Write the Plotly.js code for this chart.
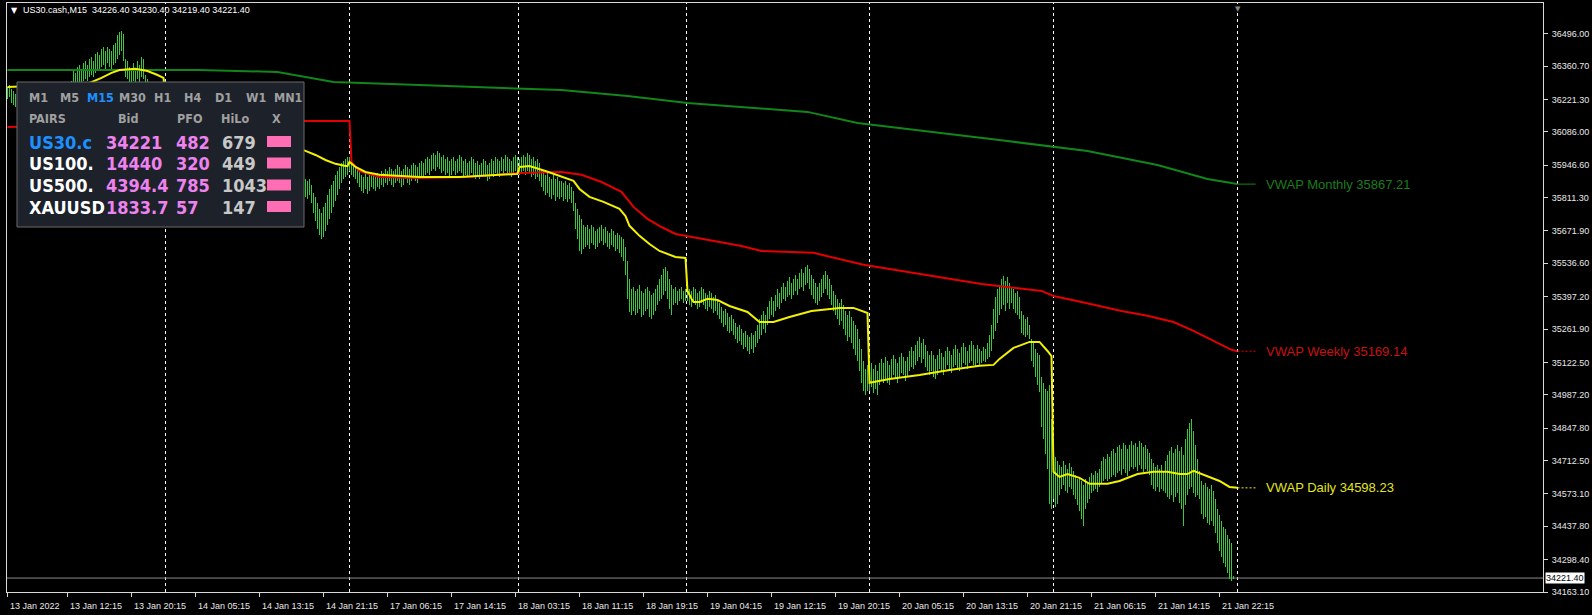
<!DOCTYPE html>
<html><head><meta charset="utf-8">
<script src="https://cdn.plot.ly/plotly-3.0.1.min.js"></script>
<style>html,body{margin:0;padding:0;background:#000;overflow:hidden}#chart{width:1592px;height:615px}</style>
</head><body><div id="chart"></div>
<script>
// ---------------- DATA ----------------
const symbol = "US30.cash,M15";
const lastBar = {open: 34226.40, high: 34230.40, low: 34219.40, close: 34221.40};

// M15 bar highs / lows, one value per bar (13 Jan .. 21 Jan 2022)
const barHigh = [
// 13 Jan
36273,36282,36265,36257,36244,
36240,36223,36231,36206,36198,36215,36223,36240,36231,36248,36257,36240,36223,36231,36248,36257,36265,36252,36244,36257,36265,36273,36282,36273,36282,36290,36286,36298,
36349,36332,36357,36365,36349,36373,36382,36365,36390,36398,36382,36411,36419,36407,36432,36440,36423,36440,36432,36423,36449,36457,36490,36503,36507,36495,36390,36382,36357,36340,36373,36349,36382,36365,36398,36390,
36323,36307,36294,36290,36282,36273,36265,36273,36257,36248,
// 14 Jan
36257,36240,36248,36231,36223,36240,36215,36206,36223,36198,36190,36206,36181,36173,36190,36165,36156,36173,36148,36140,36156,36131,36123,36140,36114,36106,36123,36098,36081,36098,36073,36064,36081,36056,36047,36064,36039,36031,36047,36022,36014,36031,36006,35997,36014,35989,35981,35997,35973,35964,35981,35956,35947,35964,35939,35931,35947,35939,35956,35947,35931,35922,35939,35922,35914,35931,35914,35906,35922,35906,
35889,35880,35889,35864,35830,35814,35789,35764,35747,35772,35789,35822,35847,35864,35880,35906,35922,35939,35956,35964,35973,35981,
// 17 Jan
35981,35973,35956,35947,35939,35922,35906,35897,35914,35897,35906,35914,35906,35897,35914,35906,35922,35914,35931,35922,35939,35931,35922,35931,35947,35939,35922,35931,35947,35939,35931,35947,35956,35947,35939,35956,35964,35956,35973,35981,35973,35989,35997,35989,36006,35997,35981,35989,35973,35981,35964,35973,35981,35964,35973,35989,35981,35964,35973,35956,35964,35981,35973,35956,35964,35947,35956,35973,35964,35947,35956,35973,35964,35981,35973,35964,35981,35973,35989,35981,35973,35964,35981,35989,35981,
// 18 Jan
35973,35981,35989,35981,35997,35989,35973,35981,35964,35973,35956,35931,35922,35906,35914,35897,35889,35906,35889,35897,35880,35880,35872,35880,35864,35872,35855,35839,35789,35764,35738,35722,35697,35688,35697,35680,35697,35688,35671,35680,35688,35697,35680,35688,35671,35663,35680,35671,35655,35663,35655,35646,35638,35605,35546,35471,35429,35438,35421,35429,35446,35421,35412,35429,35438,35421,35404,35412,35429,35446,35471,35488,35513,35521,35504,35471,35446,35429,35438,35421,35429,35438,35421,35429,
// 19 Jan
35438,35429,35421,35438,35429,35412,35421,35438,35429,35412,35404,35421,35412,35396,35404,35388,35371,35354,35337,35346,35329,35312,35321,35304,35287,35270,35279,35262,35245,35254,35237,35228,35245,35237,35254,35279,35304,35321,35337,35321,35354,35379,35396,35379,35404,35429,35412,35438,35454,35438,35463,35479,35454,35471,35488,35471,35496,35513,35496,35521,35529,35513,35488,35471,35454,35438,35454,35471,35488,35504,35488,35471,35446,35421,35404,35388,35371,35388,35362,35337,35321,35337,35312,35295,35279,35262,35220,35179,35128,35095,35112,
// 20 Jan
35103,35120,35095,35112,35087,35120,35137,35120,35145,35128,35112,35137,35153,35137,35120,35145,35162,35145,35128,35145,35170,35187,35170,35195,35212,35228,35203,35220,35195,35170,35153,35170,35153,35137,35153,35179,35162,35145,35170,35187,35170,35153,35179,35195,35179,35162,35187,35203,35187,35170,35195,35212,35195,35179,35195,35179,35170,35187,35179,35203,35237,35279,35346,35396,35429,35446,35471,35484,35463,35479,35454,35438,35429,35412,35421,35396,35337,35321,35304,35312,35279,35220,35203,35179,35162,35153,35061,35036,35011,35003,35028,34886,
// 21 Jan
34752,34727,34711,34694,34686,34711,34694,34677,34703,34686,34669,34652,34636,34644,34627,34610,34636,34619,34644,34661,34652,34669,34661,34677,34711,34727,34719,34740,34727,34752,34761,34744,34769,34778,34761,34786,34778,34761,34778,34794,34778,34786,34769,34794,34786,34769,34778,34761,34744,34719,34703,34686,34694,34677,34694,34669,34711,34736,34752,34769,34744,34761,34778,34752,34769,34736,34803,34844,34869,34886,34836,34778,34719,34669,34627,34611,34619,34602,34594,34611,34585,34552,34510,34485,34460,34435,34427,34402,34385,34368,34230.4
];
const barLow = [
// 13 Jan
36223,36231,36206,36198,36190,
36181,36165,36173,36148,36140,36156,36173,36181,36190,36198,36206,36190,36181,36173,36198,36215,36215,36202,36194,36206,36223,36227,36231,36223,36240,36244,36240,36248,
36273,36265,36282,36290,36282,36298,36307,36298,36315,36323,36315,36332,36340,36340,36357,36365,36349,36373,36357,36340,36365,36373,36390,36407,36423,36382,36315,36307,36290,36273,36298,36282,36307,36290,36315,36307,
36257,36248,36231,36223,36215,36206,36198,36206,36190,36181,
// 14 Jan
36181,36173,36190,36165,36148,36173,36148,36140,36156,36131,36123,36140,36114,36106,36131,36098,36089,36106,36081,36073,36098,36064,36056,36073,36047,36031,36056,36022,36014,36031,36006,35989,36014,35981,35973,35997,35964,35956,35981,35947,35939,35964,35931,35922,35947,35914,35906,35931,35897,35889,35914,35880,35872,35897,35864,35855,35880,35864,35889,35872,35855,35847,35872,35847,35839,35864,35839,35830,35855,35830,
35814,35805,35822,35789,35747,35713,35680,35655,35638,35646,35671,35697,35722,35747,35772,35797,35822,35847,35872,35889,35897,35906,
// 17 Jan
35922,35906,35897,35889,35872,35855,35839,35830,35847,35826,35839,35855,35847,35839,35855,35847,35864,35855,35872,35864,35880,35864,35855,35872,35880,35872,35855,35864,35889,35872,35864,35880,35889,35880,35872,35889,35897,35897,35906,35914,35906,35922,35931,35922,35939,35931,35914,35922,35906,35914,35897,35906,35922,35906,35914,35922,35914,35897,35906,35897,35906,35914,35906,35889,35897,35889,35897,35906,35897,35880,35889,35906,35897,35914,35906,35897,35922,35906,35922,35914,35906,35897,35914,35922,35906,
// 18 Jan
35906,35914,35922,35906,35922,35914,35897,35906,35889,35897,35880,35855,35839,35822,35830,35814,35805,35822,35797,35814,35805,35814,35797,35805,35793,35805,35789,35755,35680,35638,35588,35576,35597,35605,35613,35597,35621,35613,35597,35605,35621,35630,35613,35621,35605,35597,35613,35605,35588,35597,35580,35563,35546,35488,35387,35333,35321,35337,35321,35329,35346,35312,35321,35337,35346,35312,35304,35321,35337,35362,35379,35387,35404,35421,35387,35346,35321,35362,35371,35362,35379,35387,35371,35379,
// 19 Jan
35379,35362,35354,35371,35362,35346,35354,35371,35362,35346,35337,35354,35346,35329,35337,35321,35304,35287,35270,35279,35254,35245,35254,35237,35220,35203,35212,35195,35179,35187,35170,35158,35179,35162,35187,35203,35220,35237,35262,35245,35279,35304,35321,35312,35337,35354,35346,35371,35388,35379,35396,35404,35388,35404,35421,35404,35429,35438,35421,35446,35454,35429,35404,35388,35371,35362,35379,35396,35412,35429,35404,35388,35362,35337,35321,35304,35279,35296,35262,35237,35212,35228,35203,35179,35153,35128,35087,35036,35003,34986,35003,
// 20 Jan
35003,35020,34995,35011,34986,35028,35045,35036,35053,35036,35028,35053,35070,35053,35036,35061,35078,35070,35045,35061,35087,35103,35095,35112,35128,35145,35120,35137,35103,35087,35070,35087,35061,35053,35070,35095,35087,35070,35095,35112,35095,35078,35103,35112,35095,35087,35103,35120,35112,35095,35120,35128,35112,35103,35120,35112,35120,35128,35124,35137,35145,35170,35220,35254,35287,35321,35346,35362,35337,35371,35346,35371,35346,35329,35321,35304,35245,35237,35228,35237,35220,35128,35103,35061,35028,34998,34853,34803,34740,34677,34531,34510,
// 21 Jan
34552,34518,34531,34569,34594,34611,34586,34577,34602,34594,34569,34552,34527,34502,34468,34439,34510,34535,34552,34577,34586,34594,34581,34602,34619,34627,34636,34627,34636,34644,34652,34644,34661,34669,34652,34677,34661,34648,34669,34686,34677,34686,34669,34694,34677,34665,34677,34669,34652,34611,34594,34586,34602,34581,34594,34586,34577,34560,34552,34569,34539,34560,34577,34535,34510,34439,34527,34569,34594,34602,34577,34560,34569,34552,34489,34468,34477,34452,34443,34460,34439,34410,34368,34335,34310,34285,34268,34243,34218,34209,34219.4
];

// time axis labels (bar index of each label)
const xTickBars = [0,30,62,94,126,158,190,222,254,286,318,350,382,414,446,478,510,542,574,606];
const xTickLabels = ["13 Jan 2022","13 Jan 12:15","13 Jan 20:15","14 Jan 05:15","14 Jan 13:15","14 Jan 21:15","17 Jan 06:15","17 Jan 14:15","18 Jan 03:15","18 Jan 11:15","18 Jan 19:15","19 Jan 04:15","19 Jan 12:15","19 Jan 20:15","20 Jan 05:15","20 Jan 13:15","20 Jan 21:15","21 Jan 06:15","21 Jan 14:15","21 Jan 22:15"];
// day separators (bar index where each new day starts)
const daySeparators = [79,171,255.5,339.5,431,523,615];
// price axis labels
const yTickVals = [36496.00,36360.70,36221.30,36086.00,35946.60,35811.30,35671.90,35536.60,35397.20,35261.90,35122.50,34987.20,34847.80,34712.50,34573.10,34437.80,34298.40,34163.10];

// VWAP lines (bar index, value)
const monthlyIdx = [0,96,135,163,206,277,310,340,400,425,500,540,575,600,612,615];
const monthlyVal = [36344,36344,36336,36294,36281,36260,36235,36206,36169,36123,36047,36006,35947,35889,35872,35867.21];
const weeklyIdx = [0,149,171,172,176,186,206,230,256,277,287,297,307,310,313,320,327,334,339,352,367,377,403,428,479,487,517,523,537,557,570,583,593,603,612,615];
const weeklyVal = [36106,36131,36131,35960,35922,35897,35893,35897,35914,35918,35906,35876,35835,35805,35772,35722,35688,35659,35651,35630,35609,35588,35580,35530,35463,35450,35421,35400,35375,35337,35317,35291,35254,35212,35175,35169.14];
const dailyIdx = [0,12,27,41,47,52,56,64,70,75,78, 79,96,116,136,149,154,159,164,169,170, 171,174,179,186,206,226,246,255, 256,261,269,276,283,286,291,298,306,309,311,316,321,326,334,339, 340,342,343,346,350,355,361,370,376,383,391,402,416,423,430, 431,441,456,471,486,493,496,503,511,516,520,522, 523,526,530,536,541,550,556,565,573,580,586,590,593,600,606,611,615];
const dailyVal = [36273,36277,36282,36290,36311,36332,36344,36349,36340,36323,36311, 36223,36190,36119,36048,36006,35989,35968,35952,35943,35943, 35960,35939,35918,35906,35897,35897,35906,35910, 35939,35943,35922,35901,35881,35847,35814,35793,35764,35734,35693,35651,35617,35588,35563,35559, 35421,35388,35375,35375,35388,35383,35358,35333,35291,35291,35312,35337,35350,35350,35329, 35037,35053,35070,35091,35108,35112,35137,35183,35208,35208,35170,35149, 34665,34644,34656,34640,34615,34615,34627,34656,34665,34665,34656,34656,34669,34648,34627,34602,34598.23];
const vwapNames = ["Monthly","Weekly","Daily"];

// dashboard panel
const timeframes = ["M1","M5","M15","M30","H1","H4","D1","W1","MN1"];
const activeTimeframe = "M15";
const panelHeaders = ["PAIRS","Bid","PFO","HiLo","X"];
const pairs = ["US30.c","US100.","US500.","XAUUSD"];
const bids = ["34221","14440","4394.4","1833.7"];
const pfo = [482,320,785,57];
const hilo = [679,449,1043,147];

// ---------------- LAYOUT / DRAWING ----------------
const W = 1592, H = 615, L = 7, T = 3, PW = 1536, PH = 589;
const fx = p => (p - L) / PW;
const fy = p => (T + PH - p) / PH;
const axisFont = {family: "Liberation Sans, Arial, sans-serif", size: 9, color: "#e8e8e8"};
const vwapColors = {Monthly: "#12861a", Weekly: "#e20000", Daily: "#f2f200"};
const vwapTextColors = {Monthly: "#1c7c1c", Weekly: "#c81010", Daily: "#e4e41e"};

const barIdx = barHigh.map((_, i) => i);
const traces = [{
  type: "bar", x: barIdx, base: barLow, y: barHigh.map((h, i) => h - barLow[i]), width: 0.5,
  marker: {color: "#3cc83c", line: {width: 0}}, hoverinfo: "skip"
}];
const vwapData = {
  Monthly: [monthlyIdx, monthlyVal],
  Weekly: [weeklyIdx, weeklyVal],
  Daily: [dailyIdx, dailyVal]
};
vwapNames.forEach(n => {
  traces.push({type: "scatter", mode: "lines", x: vwapData[n][0], y: vwapData[n][1],
    line: {color: vwapColors[n], width: 2}, hoverinfo: "skip"});
});
const extStart = daySeparators[daySeparators.length - 1];
vwapNames.forEach(n => {
  const v = vwapData[n][1][vwapData[n][1].length - 1];
  traces.push({type: "scatter", mode: "lines", x: [extStart, extStart + 9], y: [v, v],
    line: {color: vwapColors[n], width: 1, dash: n === "Monthly" ? "solid" : "2px,2px"}, hoverinfo: "skip"});
});

const shapes = [];
daySeparators.forEach(s => shapes.push({type: "line", xref: "x", yref: "paper", x0: s, x1: s, y0: 0, y1: 1,
  line: {color: "#ffffff", width: 1, dash: "3px,3px"}, layer: "below"}));
shapes.push({type: "line", xref: "paper", yref: "y", x0: 0, x1: 1, y0: lastBar.close, y1: lastBar.close,
  line: {color: "#8a8a8a", width: 1}, layer: "below"});
// panel
shapes.push({type: "rect", xref: "paper", yref: "paper", x0: fx(17), x1: fx(304), y0: fy(227), y1: fy(82),
  fillcolor: "#1c212a", line: {color: "#6a6a6a", width: 1}, layer: "above"});
const rowY = [141.5, 163, 185, 206.5];
rowY.forEach(yc => shapes.push({type: "rect", xref: "paper", yref: "paper", x0: fx(267), x1: fx(291),
  y0: fy(yc + 5.5), y1: fy(yc - 5.5), fillcolor: "#ff6eb4", line: {width: 0}, layer: "above"}));

const ann = [];
// header
ann.push({xref: "paper", yref: "paper", x: fx(9), y: fy(10), xanchor: "left", yanchor: "middle", showarrow: false,
  text: "▼", font: {family: "DejaVu Sans", size: 8, color: "#ffffff"}});
ann.push({xref: "paper", yref: "paper", x: fx(21), y: fy(10.5), xanchor: "left", yanchor: "middle", showarrow: false,
  text: symbol + "\u00a0\u00a0" + [lastBar.open, lastBar.high, lastBar.low, lastBar.close].map(v => v.toFixed(2)).join(" "),
  font: {family: "Liberation Sans, Arial, sans-serif", size: 9, color: "#ffffff"}});
// x labels
xTickBars.forEach((b, k) => ann.push({xref: "x", yref: "paper", x: b, y: fy(606), xanchor: "left", yanchor: "middle",
  showarrow: false, text: xTickLabels[k], font: axisFont}));
// close price box
ann.push({xref: "paper", yref: "y", x: 1, y: lastBar.close, xanchor: "left", yanchor: "middle", xshift: 2, showarrow: false,
  text: lastBar.close.toFixed(2), bgcolor: "#ffffff", borderpad: 0,
  font: {family: "Liberation Sans, Arial, sans-serif", size: 9, color: "#000000"}});
// chart shift marker
ann.push({xref: "x", yref: "paper", x: extStart, y: 1, xanchor: "center", yanchor: "top", showarrow: false,
  text: "▼", font: {family: "DejaVu Sans", size: 7, color: "#8a8a8a"}});
// VWAP labels
vwapNames.forEach(n => {
  const v = vwapData[n][1][vwapData[n][1].length - 1];
  ann.push({xref: "x", yref: "y", x: extStart + 13, y: v, xanchor: "left", yanchor: "middle", showarrow: false,
    text: "VWAP " + n + " " + v.toFixed(2), font: {family: "Liberation Sans, Arial, sans-serif", size: 13, color: vwapTextColors[n]}});
});
// dashboard text
const pf = "DejaVu Sans Condensed, Liberation Sans Narrow, sans-serif";
const tfX = [27, 58, 85, 117, 152, 182, 213, 244, 272];
timeframes.forEach((t, k) => ann.push({xref: "paper", yref: "paper", x: fx(tfX[k]), y: fy(98), xanchor: "left", yanchor: "middle",
  showarrow: false, text: "<b>" + t + "</b>", font: {family: pf, size: 12.5, color: t === activeTimeframe ? "#1e90ff" : "#a0a0a0"}}));
const hdrX = [27, 128, 189, 235, 276];
panelHeaders.forEach((h, k) => ann.push({xref: "paper", yref: "paper", x: fx(hdrX[k]), y: fy(119), xanchor: k === 0 ? "left" : "center",
  yanchor: "middle", showarrow: false, text: "<b>" + h + "</b>", font: {family: pf, size: 12.5, color: "#a0a0a0"}}));
pairs.forEach((p, r) => {
  const yc = rowY[r];
  const cols = [[27, p, r === 0 ? "#1e90ff" : "#ffffff"], [104, bids[r], "#ee82ee"], [174, String(pfo[r]), "#ee82ee"], [220, String(hilo[r]), "#c8c8c8"]];
  cols.forEach(c => ann.push({xref: "paper", yref: "paper", x: fx(c[0]), y: fy(yc + 0.5), xanchor: "left", yanchor: "middle",
    showarrow: false, text: "<b>" + c[1] + "</b>", font: {family: pf, size: 18, color: c[2]}}));
});
if (barHigh.length !== barLow.length) ann.push({xref: "paper", yref: "paper", x: 0.5, y: 0.5, showarrow: false, text: "LEN " + barHigh.length + "/" + barLow.length, font: {size: 30, color: "red"}});

const layout = {
  width: W, height: H, paper_bgcolor: "#000000", plot_bgcolor: "#000000",
  margin: {l: L, r: W - L - PW, t: T, b: H - T - PH, pad: 0},
  showlegend: false, hovermode: false, bargap: 0,
  xaxis: {range: [-0.25, PW / 2 - 0.25], showgrid: false, zeroline: false, showline: true, mirror: true,
    linecolor: "#d8d8d8", linewidth: 1, ticks: "outside", ticklen: 4, tickcolor: "#d8d8d8",
    tickvals: xTickBars, showticklabels: false, fixedrange: true},
  yaxis: {side: "right", range: [34163.1, 34163.1 + PH * 4.178], showgrid: false, zeroline: false, showline: true, mirror: true,
    linecolor: "#d8d8d8", linewidth: 1, ticks: "outside", ticklen: 4, tickcolor: "#d8d8d8",
    tickvals: yTickVals, ticktext: yTickVals.map(v => v.toFixed(2)), tickfont: axisFont, ticklabelstandoff: 2, fixedrange: true},
  shapes: shapes, annotations: ann
};
Plotly.newPlot("chart", traces, layout, {staticPlot: true, displayModeBar: false});
</script>
</body></html>
